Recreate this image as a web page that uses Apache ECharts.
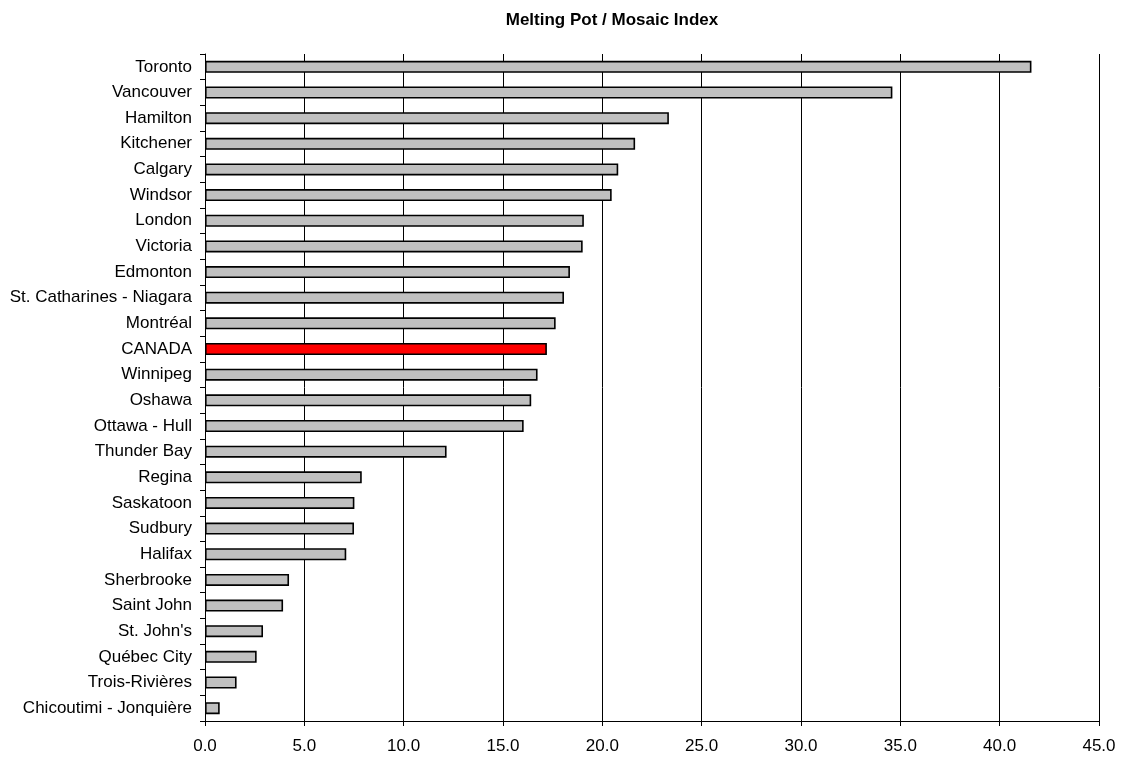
<!DOCTYPE html>
<html>
<head>
<meta charset="utf-8">
<script src="https://cdn.jsdelivr.net/npm/echarts@6/dist/echarts.min.js"></script>
<style>
html,body{margin:0;padding:0;background:#fff;}
#chart{width:1124px;height:758px;}
</style>
</head>
<body>
<div id="chart"></div>
<script>
const titleText = 'Melting Pot / Mosaic Index';
const cities = ['Toronto','Vancouver','Hamilton','Kitchener','Calgary','Windsor','London','Victoria','Edmonton','St. Catharines - Niagara','Montréal','CANADA','Winnipeg','Oshawa','Ottawa - Hull','Thunder Bay','Regina','Saskatoon','Sudbury','Halifax','Sherbrooke','Saint John',"St. John's",'Québec City','Trois-Rivières','Chicoutimi - Jonquière'];
const values = [41.6,34.6,23.35,21.65,20.8,20.47,19.07,19.01,18.37,18.07,17.65,17.21,16.74,16.42,16.04,12.16,7.89,7.52,7.5,7.11,4.23,3.93,2.92,2.6,1.59,0.74];
const highlight = 'CANADA';
const xMin = 0, xMax = 45, xStep = 5;

const chart = echarts.init(document.getElementById('chart'));
const font = '"Liberation Sans", Arial, sans-serif';
chart.setOption({
  animation: false,
  backgroundColor: '#fff',
  title: {
    text: titleText,
    left: 607, top: 7, textAlign: 'center',
    textStyle: {fontFamily: font, fontSize: 17, fontWeight: 'bold', color: '#000'}
  },
  grid: {left: 205, right: 25, top: 54, bottom: 37},
  xAxis: {
    type: 'value', min: xMin, max: xMax, interval: xStep,
    axisLine: {show: true, lineStyle: {color: '#000', width: 1}},
    axisTick: {show: true, length: 5, lineStyle: {color: '#000'}},
    splitLine: {show: true, lineStyle: {color: '#000', width: 1}},
    axisLabel: {margin: 17, fontFamily: font, fontSize: 17, color: '#000', formatter: v => v.toFixed(1)}
  },
  yAxis: {
    type: 'category', data: cities, inverse: true,
    axisLine: {show: true, lineStyle: {color: '#000', width: 1}},
    axisTick: {show: true, length: 5, lineStyle: {color: '#000'}},
    axisLabel: {margin: 13, fontFamily: font, fontSize: 17, color: '#000'}
  },
  series: [{
    type: 'bar',
    barWidth: 12,
    data: values.map((v, i) => ({
      value: v,
      itemStyle: {color: cities[i] === highlight ? '#ff0000' : '#c0c0c0', borderColor: '#000', borderWidth: 1.6}
    }))
  }]
});
</script>
</body>
</html>
